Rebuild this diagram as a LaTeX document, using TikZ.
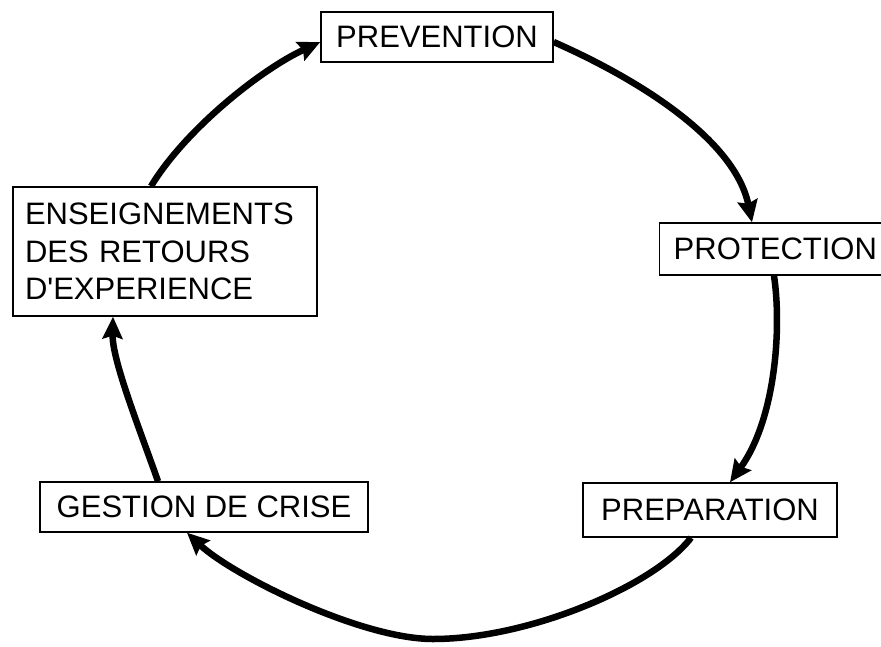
\documentclass[tikz,border=0pt]{standalone}
\usepackage{fontspec}
\setmainfont{Liberation Sans}
\usetikzlibrary{arrows.meta}
\tikzset{
  box/.style={draw=black, line width=1.4pt, rectangle, inner sep=0pt, font=\fontsize{31}{37.5}\selectfont},
  cyc/.style={line width=6.5pt, -{Stealth[length=22pt,width=20pt,inset=3pt]}},
}
\begin{document}
\begin{tikzpicture}[x=1pt,y=-1pt]
\useasboundingbox (0,0) rectangle (881,646);
\node[box, minimum width=232, minimum height=50] (prev) at (437,37) {PREVENTION};
\node[box, minimum height=52, inner xsep=14pt, anchor=west] (prot) at (659,249) {PROTECTION};
\node[box, minimum width=254, minimum height=54] (prep) at (710,510) {PREPARATION};
\node[box, minimum width=328, minimum height=50] (gest) at (204,507) {GESTION DE CRISE};
\node[box, minimum width=304, minimum height=129, text width=280, align=left] (ens) at (165,251.5) {ENSEIGNEMENTS\\DES RETOURS\\D\textquotesingle EXPERIENCE};
\coordinate (bot) at (433,639);
\draw[cyc] ([yshift=-5pt]prev.east) .. controls (640,80) and (735,140) .. ([xshift=93pt]prot.north west);
\draw[cyc] ([xshift=115pt]prot.south west) .. controls (782,330) and (775,420) .. ([xshift=20pt]prep.north);
\draw[line width=6.5pt] ([xshift=-19pt]prep.south) .. controls (655,585) and (530,639) .. (bot);
\draw[cyc] (bot) .. controls (360,639) and (232,575) .. ([xshift=-17pt]gest.south);
\draw[cyc] ([xshift=-46pt]gest.north) .. controls (140,430) and (112,360) .. ([xshift=-52pt]ens.south);
\draw[cyc] ([xshift=-14pt]ens.north) .. controls (185,130) and (260,70) .. ([yshift=-5pt]prev.west);
\end{tikzpicture}
\end{document}
